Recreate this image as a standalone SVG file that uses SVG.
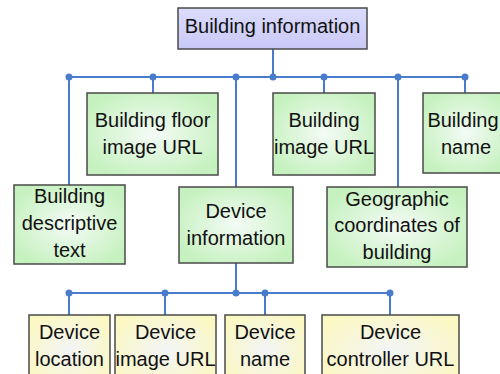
<svg xmlns="http://www.w3.org/2000/svg" width="500" height="374" viewBox="0 0 500 374">
<defs>
<radialGradient id="gG" cx="50%" cy="50%" r="60%"><stop offset="0" stop-color="#f4fbf6"/><stop offset="1" stop-color="#c4f1bd"/></radialGradient>
<radialGradient id="gY" cx="50%" cy="50%" r="60%"><stop offset="0" stop-color="#f2f4f6"/><stop offset="1" stop-color="#fbf8c2"/></radialGradient>
<linearGradient id="gL" x1="0" y1="0" x2="0" y2="1"><stop offset="0" stop-color="#dcdcfc"/><stop offset="1" stop-color="#c8c8f6"/></linearGradient>
</defs>
<style>
rect{stroke:#4a4a4a;stroke-width:1.5}
.g{fill:url(#gG)}.y{fill:url(#gY)}.l{fill:url(#gL)}
text{font-family:"Liberation Sans",Arial,sans-serif;font-size:20px;fill:#111;text-anchor:middle}
.c line{stroke:#4a7ccc;stroke-width:2}
.c circle{fill:#4a7ccc}
</style>
<rect width="500" height="374" fill="#fff" style="stroke:none"/>
<g class="c" id="connectors">
<line x1="273" y1="49" x2="273" y2="77"/>
<line x1="69" y1="77" x2="465" y2="77"/>
<line x1="69" y1="77" x2="69" y2="185"/>
<line x1="153" y1="77" x2="153" y2="93"/>
<line x1="236" y1="77" x2="236" y2="187"/>
<line x1="324" y1="77" x2="324" y2="93"/>
<line x1="398" y1="77" x2="398" y2="187"/>
<line x1="465" y1="77" x2="465" y2="93"/>
<circle cx="69" cy="77" r="3.5"/><circle cx="153" cy="77" r="3.5"/><circle cx="236" cy="77" r="3.5"/><circle cx="273" cy="77" r="3.5"/><circle cx="324" cy="77" r="3.5"/><circle cx="398" cy="77" r="3.5"/><circle cx="465" cy="77" r="3.5"/>
<line x1="236" y1="263" x2="236" y2="293"/>
<line x1="69" y1="293" x2="390" y2="293"/>
<line x1="69" y1="293" x2="69" y2="315"/>
<line x1="165" y1="293" x2="165" y2="315"/>
<line x1="265" y1="293" x2="265" y2="315"/>
<line x1="390" y1="293" x2="390" y2="315"/>
<circle cx="69" cy="293" r="3.5"/><circle cx="165" cy="293" r="3.5"/><circle cx="236" cy="293" r="3.5"/><circle cx="265" cy="293" r="3.5"/><circle cx="390" cy="293" r="3.5"/>
</g>
<g id="building-information"><rect class="l" x="178" y="8" width="189" height="41"/><text x="272.5" y="33">Building information</text></g>
<g id="building-floor-image-url"><rect class="g" x="87" y="93" width="131" height="82"/><text x="152.5" y="127">Building floor</text><text x="152.5" y="154">image URL</text></g>
<g id="building-image-url"><rect class="g" x="273" y="93" width="102" height="82"/><text x="324" y="127">Building</text><text x="324" y="154">image URL</text></g>
<g id="building-name"><rect class="g" x="423" y="93" width="86" height="80"/><text x="463" y="127">Building</text><text x="466" y="154">name</text></g>
<g id="building-descriptive-text"><rect class="g" x="14" y="185" width="111" height="79"/><text x="69.5" y="203">Building</text><text x="69.5" y="230">descriptive</text><text x="69.5" y="257">text</text></g>
<g id="device-information"><rect class="g" x="179" y="187" width="114" height="76"/><text x="236" y="218">Device</text><text x="236" y="245">information</text></g>
<g id="geographic-coordinates"><rect class="g" x="327" y="187" width="140" height="80"/><text x="397" y="206">Geographic</text><text x="397" y="232">coordinates of</text><text x="397" y="259">building</text></g>
<g id="device-location"><rect class="y" x="29" y="315" width="81" height="70"/><text x="69.5" y="339">Device</text><text x="69.5" y="366">location</text></g>
<g id="device-image-url"><rect class="y" x="115" y="315" width="101" height="70"/><text x="165.5" y="339">Device</text><text x="165.5" y="366">image URL</text></g>
<g id="device-name"><rect class="y" x="225" y="315" width="80" height="70"/><text x="265" y="339">Device</text><text x="265" y="366">name</text></g>
<g id="device-controller-url"><rect class="y" x="322" y="315" width="137" height="70"/><text x="390.5" y="339">Device</text><text x="390.5" y="366">controller URL</text></g>
</svg>
